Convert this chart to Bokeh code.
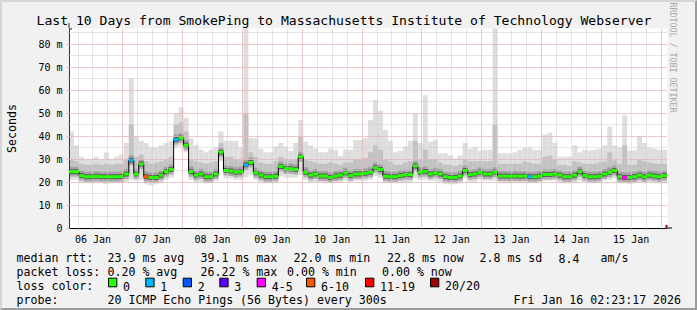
import math
from datetime import datetime, timedelta
from bokeh.plotting import figure
from bokeh.layouts import column
from bokeh.models import (FixedTicker, DatetimeTickFormatter, Range1d, Arrow,
                          NormalHead, ColumnDataSource, LinearAxis, Title)
from bokeh.core.properties import value
from bokeh.embed import file_html
from bokeh.resources import INLINE

# ---------------- data ----------------
start_time = datetime(2026, 1, 6, 2, 23, 17)
end_time = datetime(2026, 1, 16, 2, 23, 17)
step_hours = 2

median_ms = [24.5, 24.5, 22.8, 22.3, 22.3, 22.5, 22.3, 22.3, 22.3, 22.3,
             22.4, 23.5, 29.5, 23.5, 27.8, 22.3, 22.0, 22.0, 23.0, 24.5,
             25.5, 38.5, 39.1, 36.0, 24.5, 23.0, 23.5, 22.3, 22.3, 23.5,
             33.0, 25.0, 24.8, 24.2, 24.5, 27.5, 28.5, 24.0, 23.0, 22.3,
             22.3, 22.5, 26.8, 25.8, 25.8, 25.5, 31.0, 24.2, 23.0, 23.5,
             22.6, 22.6, 22.0, 22.6, 23.0, 24.0, 22.8, 23.5, 23.5, 23.8,
             24.2, 26.2, 25.5, 22.5, 22.3, 22.3, 22.8, 23.2, 23.2, 27.0,
             24.3, 24.6, 23.5, 24.0, 23.5, 22.3, 22.0, 22.0, 22.6, 25.0,
             23.2, 23.5, 24.2, 23.5, 23.5, 24.2, 22.6, 22.6, 22.5, 22.6,
             22.5, 22.6, 22.3, 22.3, 22.6, 23.3, 23.3, 23.5, 23.0, 22.3,
             22.3, 23.0, 24.5, 22.8, 22.3, 22.3, 22.5, 23.5, 24.2, 25.0,
             22.3, 22.0, 22.0, 22.3, 23.0, 22.3, 23.0, 22.6, 22.3, 22.8]

max_ms = [42, 36, 31, 30, 30, 31, 30, 33, 30, 31,
          32, 37, 65, 40, 38, 37, 35, 35, 36, 37,
          38, 50, 52.5, 48, 39, 36, 34, 33, 34, 35,
          42, 38, 38, 38, 35, 87, 39, 39, 34.5, 33,
          33, 35.5, 37, 35.5, 33.5, 37, 47, 37.5, 36, 34.6,
          33, 33, 34.6, 34, 31.3, 34.3, 34, 38.3, 38.3, 39,
          47, 55.7, 51, 42.6, 38, 33, 33.5, 35.4, 38, 49.8,
          37, 57.8, 37.5, 38.3, 32.5, 32.5, 31.5, 30.3, 31.5, 37,
          34.5, 35.2, 33.5, 34, 34, 87, 32.5, 32.5, 32.5, 33,
          34, 35, 35, 34, 34, 40.7, 41.4, 37, 31, 31,
          31, 36, 33, 34, 33.7, 34, 34.5, 36, 44, 36,
          35, 49, 33.7, 33.7, 39.8, 37, 35, 34.5, 34, 34]

upper_ms = [30, 29, 28, 27.5, 27.5, 28, 27.5, 28, 27.5, 28,
            28, 30, 45, 31, 32, 29, 28, 28.5, 29, 30,
            31, 45, 46, 42, 30, 29, 28.5, 28, 28.5, 29,
            37, 31, 31, 30, 29.5, 50, 33, 31, 28.5, 28,
            28, 29, 31, 30, 29.5, 30, 40, 30, 29, 28.5,
            28, 28, 28.5, 28, 27.5, 28.5, 28.5, 30, 30, 30.5,
            33, 36, 34, 30, 29, 27.5, 27.5, 28.5, 29, 38,
            30, 34, 30, 30, 28.5, 27.5, 27.5, 27, 27.5, 30,
            29, 29, 29, 29, 29, 45, 28, 28, 28, 28,
            28, 29, 28.5, 28, 28, 31, 31.5, 30, 27.5, 27.5,
            27, 29, 28.5, 28, 28, 28, 28.5, 29, 33, 29.5,
            28, 36, 27.5, 27.5, 30, 29, 28.5, 28, 28, 28]

min_ms = [21, 21, 19.5, 19.5, 19.5, 19.5, 19.5, 19, 19.5, 19.5,
          19.5, 20, 21, 20.5, 21, 19, 18.5, 19, 19.5, 21,
          22, 35, 35.5, 33, 21, 20, 20, 19.5, 19.5, 20.5,
          29, 21.5, 21.5, 21, 21, 22, 23, 21, 20, 19.5,
          19.5, 19.5, 22.5, 22, 22, 22, 23, 21, 20, 20,
          20, 19.5, 19.5, 19.5, 20, 20.5, 20, 20.5, 20.5, 20.5,
          21, 22.5, 22, 19.5, 19.5, 19.5, 19.5, 20, 20, 21.5,
          21, 21, 20.5, 20.5, 20, 19, 19, 19, 19.5, 21.5,
          20, 20, 21, 20.5, 20.5, 20.5, 19.5, 19.5, 19.5, 19.5,
          19.5, 19.5, 19.5, 19.5, 20, 20.5, 20.5, 20.5, 20, 19.5,
          19.5, 20, 20.5, 20, 19.5, 19.5, 19.5, 20.5, 21, 21.5,
          19.5, 19.5, 19, 19.5, 20, 19.5, 20, 19.5, 19.5, 19.5]

loss_count = [0] * 120
for idx, val in [(12, 1), (15, 7), (21, 1), (35, 1), (92, 1), (111, 4)]:
    loss_count[idx] = val

loss_labels = ["0", "1", "2", "3", "4-5", "6-10", "11-19", "20/20"]
loss_low = [0, 1, 2, 3, 4, 6, 11, 20]
loss_high = [0, 1, 2, 3, 5, 10, 19, 20]
loss_colors = ["#26ff00", "#00b8ff", "#0059ff", "#5e00ff", "#ff00ff", "#ff5500", "#ff0000", "#a10000"]

y_ticks = [0, 10, 20, 30, 40, 50, 60, 70, 80]
y_tick_labels = ["0", "10 m", "20 m", "30 m", "40 m", "50 m", "60 m", "70 m", "80 m"]

title_text = "Last 10 Days from SmokePing to Massachusetts Institute of Technology Webserver"
rtt_label = "median rtt:"
rtt_items = ["23.9 ms avg", "39.1 ms max", "22.0 ms min", "22.8 ms now", "2.8 ms sd", "8.4", "am/s"]
loss_label = "packet loss:"
loss_items = ["0.20 % avg", "26.22 % max", "0.00 % min", "0.00 % now"]
color_label = "loss color:"
probe_label = "probe:"
probe_text = "20 ICMP Echo Pings (56 Bytes) every 300s"
stamp_text = "Fri Jan 16 02:23:17 2026"
watermark = "RRDTOOL / TOBI OETIKER"

# ---------------- helpers ----------------
EPOCH = datetime(1970, 1, 1)


def to_ms(dt):
    return (dt - EPOCH).total_seconds() * 1000.0


n = len(median_ms)
lefts = [to_ms(start_time + timedelta(hours=step_hours * i)) for i in range(n)]
rights = [to_ms(start_time + timedelta(hours=step_hours * (i + 1))) for i in range(n)]


def color_for(c):
    for lo, hi, col in zip(loss_low, loss_high, loss_colors):
        if lo <= c <= hi:
            return col
    return loss_colors[-1]


src = ColumnDataSource(dict(left=lefts, right=rights, med=median_ms, top=max_ms,
                            up=upper_ms, low=min_ms,
                            col=[color_for(c) for c in loss_count]))

FONT = "DejaVu Sans Mono"
BG = "#f1f1f1"
B = 2                    # css border width
W_IN = 697 - 2 * B       # inner width
MAIN_H = 246             # canvas rows 2..248
LEG_H = 310 - 2 * B - MAIN_H
FL, FT, FW, FH = 67, 28, 600, 200   # frame placement on the full canvas

px_ms = (rights[-1] - lefts[0]) / FW     # ms of time per pixel
px_val = 87.0 / FH                       # value per pixel
x0 = lefts[0] + 0.5 * px_ms
y0 = -0.5 * px_val

p = figure(width=W_IN, height=MAIN_H, x_axis_type="datetime",
           x_range=Range1d(x0, x0 + FW * px_ms), y_range=Range1d(y0, y0 + 87),
           output_backend="svg", toolbar_location=None,
           min_border_left=FL - B, min_border_right=W_IN - (FL - B) - FW,
           min_border_top=FT - B, min_border_bottom=MAIN_H - (FT - B) - FH)
p.background_fill_color = "white"
p.border_fill_color = BG
p.outline_line_color = None

p.title.text = title_text
p.title.text_font = FONT
p.title.text_font_size = "13.1px"
p.title.text_font_style = "normal"
p.title.text_color = "black"
p.title.align = "left"
p.title.offset = 34 - FL
p.title.standoff = 2

# smoke
p.quad(left="left", right="right", bottom="low", top="top", source=src,
       fill_color="#dedede", line_color=None)
p.quad(left="left", right="right", bottom="med", top="up", source=src,
       fill_color="#c2c2c2", line_color=None)
p.segment(x0="left", x1="right", y0="med", y1="med", source=src,
          line_color="#8c8c8c", line_width=10, line_alpha=0.6, line_cap="butt")
p.segment(x0="left", x1="right", y0="med", y1="med", source=src,
          line_color="#4a4a4a", line_width=5, line_alpha=0.8, line_cap="butt")

# median line
step_x = lefts + [rights[-1]]
step_y = median_ms + [median_ms[-1]]
p.step(step_x, step_y, mode="after", line_color="black", line_width=1, level="annotation")
p.segment(x0="left", x1="right", y0="med", y1="med", source=src,
          line_color="col", line_width=3, line_cap="butt", level="annotation")

# grids
midnights = [to_ms(datetime(2026, 1, d)) for d in range(7, 17)]
six_hours = [to_ms(datetime(2026, 1, 6, 6) + timedelta(hours=6 * k)) for k in range(40)]
noons = [to_ms(datetime(2026, 1, d, 12)) for d in range(6, 16)]
y_minor = [5 * k for k in range(1, 18)]

p.xgrid.ticker = FixedTicker(ticks=midnights, minor_ticks=six_hours)
p.ygrid.ticker = FixedTicker(ticks=y_ticks, minor_ticks=y_minor)
for g in (p.xgrid[0], p.ygrid[0]):
    g.grid_line_color = "#f4aaaa"
    g.grid_line_dash = "1 1"
    g.minor_grid_line_color = "#cccccc"
    g.minor_grid_line_dash = "1 1"
    g.level = "glyph"

# axes
xa = p.xaxis[0]
xa.ticker = FixedTicker(ticks=noons, minor_ticks=six_hours)
fmt = "%d %b"
xa.formatter = DatetimeTickFormatter(days=fmt, hours=fmt, hourmin=fmt, months=fmt, years=fmt,
                                     minutes=fmt, minsec=fmt, seconds=fmt, milliseconds=fmt,
                                     microseconds=fmt)
xa.major_tick_line_color = None
xa.major_tick_out = 0
xa.major_tick_in = 0
xa.minor_tick_out = 2
xa.minor_tick_in = 0
xa.minor_tick_line_color = "#c8c8c8"
xa.major_label_standoff = 3
xa.axis_line_color = "black"

ya = p.yaxis[0]
ya.ticker = FixedTicker(ticks=y_ticks, minor_ticks=y_minor)
ya.major_label_overrides = {t: s for t, s in zip(y_ticks, y_tick_labels)}
ya.major_tick_out = 3
ya.major_tick_in = 0
ya.major_tick_line_color = "#f4aaaa"
ya.minor_tick_out = 2
ya.minor_tick_in = 0
ya.minor_tick_line_color = "#c8c8c8"
ya.major_label_standoff = 4
ya.axis_line_color = "#333333"
ya.axis_label = "Seconds"
ya.axis_label_standoff = 16
ya.axis_label_text_font_style = "normal"

for ax in (xa, ya):
    ax.major_label_text_font = FONT
    ax.major_label_text_font_size = "10px"
    ax.major_label_text_color = "black"
    ax.axis_label_text_font = FONT
    ax.axis_label_text_font_size = "11.6px"
    ax.axis_label_text_color = "black"

# right side: an empty spacer axis, then the watermark title (reads top to bottom)
spacer = LinearAxis(ticker=FixedTicker(ticks=[]), axis_line_color=None,
                    major_tick_line_color=None, minor_tick_line_color=None,
                    major_tick_out=16, minor_tick_out=0, major_tick_in=0, minor_tick_in=0,
                    major_label_text_font_size="0px", major_label_standoff=0)
p.add_layout(spacer, "right")
p.add_layout(Title(text=watermark, text_font=FONT, text_font_size="8.3px",
                   text_font_style="normal", text_color="#a8a8a8", align="left",
                   offset=2 - FT, standoff=0, vertical_align="bottom"), "right")

# arrows at the axis ends
p.add_layout(Arrow(end=NormalHead(size=6, fill_color="#8b1c1c", line_color="#8b1c1c"),
                   x_start=rights[-1], y_start=0, x_end=rights[-1] + 5 * px_ms, y_end=0,
                   line_color="black", line_width=1))
p.add_layout(Arrow(end=NormalHead(size=6, fill_color="#8b1c1c", line_color="#8b1c1c"),
                   x_start=lefts[0], y_start=87, x_end=lefts[0], y_end=87 + 5 * px_val,
                   line_color="#333333", line_width=1))

# ---------------- legend panel ----------------
top_c = B + MAIN_H                  # canvas row where legend panel starts
q = figure(width=W_IN, height=LEG_H, x_range=Range1d(B, B + W_IN),
           y_range=Range1d(top_c + LEG_H, top_c), output_backend="svg",
           toolbar_location=None, x_axis_location=None, y_axis_location=None,
           min_border=0)
q.grid.visible = False
q.background_fill_color = BG
q.border_fill_color = BG
q.outline_line_color = None
for fig in (p, q):
    if "frame_align" in fig.properties():
        fig.frame_align = False

rows = [257.5, 271.6, 285.7, 299.8]
tx, ty, tt = [], [], []


def put(text, x, y):
    tx.append(x)
    ty.append(y)
    tt.append(text)


put(rtt_label, 16, rows[0])
for t, x in zip(rtt_items, [107, 200, 293, 386.5, 479, 558, 600]):
    put(t, x, rows[0])
put(loss_label, 16, rows[1])
for t, x in zip(loss_items, [107, 200, 286.5, 381.5]):
    put(t, x, rows[1])
put(color_label, 16, rows[2])
box_x = [108, 145.3, 182.7, 219.3, 256.7, 306, 365, 430]
for t, x in zip(loss_labels, box_x):
    put(t, x + 14.5, rows[2])
put(probe_label, 16, rows[3])
put(probe_text, 107, rows[3])
put(stamp_text, 513, rows[3])

q.text(x=tx, y=ty, text=tt, text_font=value(FONT), text_font_size=value("11.6px"),
       text_color="black", text_baseline="alphabetic", text_align="left")
q.quad(left=box_x, right=[x + 8.3 for x in box_x], top=[277.7] * len(box_x),
       bottom=[286.3] * len(box_x), fill_color=loss_colors, line_color="black", line_width=1)

layout = column(p, q, spacing=0,
                styles={"border-style": "solid", "border-width": "2px",
                        "border-color": "#d6d6d6 #9c9c9c #9c9c9c #d6d6d6",
                        "background-color": BG})

open("out.html", "w").write(file_html(layout, INLINE))
